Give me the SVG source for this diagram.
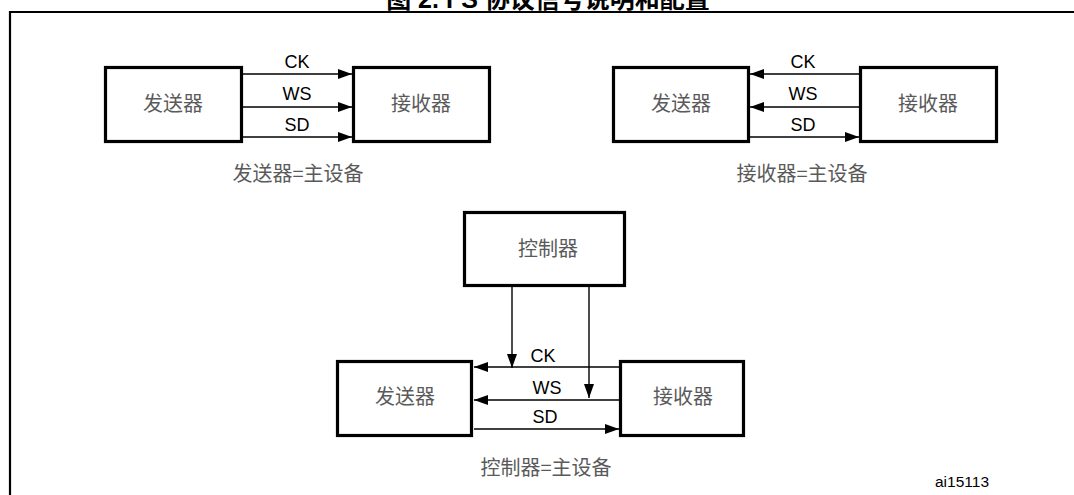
<svg xmlns="http://www.w3.org/2000/svg" width="1074" height="495" viewBox="0 0 1074 495">
<style>
.box{fill:#fff;stroke:#000;stroke-width:3.2}
.cn{font-family:"Noto Sans CJK SC","Liberation Sans",sans-serif;font-size:20px;fill:#5a5a5a;text-anchor:middle}
.lb{font-family:"Liberation Sans",Arial,sans-serif;font-size:18px;fill:#000;text-anchor:middle}
.ln{stroke:#000;stroke-width:1.4;fill:none}
.fa{marker-end:url(#ah)}
</style>
<defs>
<marker id="ah" markerUnits="userSpaceOnUse" markerWidth="16" markerHeight="12" refX="14" refY="5" orient="auto">
<path d="M0,0 L14,5 L0,10 Z" fill="#000"/>
</marker>
</defs>
<rect width="1074" height="495" fill="#fff"/>
<text x="548" y="8" font-family="'Liberation Sans','Noto Sans CJK SC',sans-serif" font-size="25" font-weight="bold" text-anchor="middle">图 2. I<tspan dy="-10" font-size="15">2</tspan><tspan dy="10">S 协议信号说明和配置</tspan></text>
<path d="M10,495 V12 H1074" fill="none" stroke="#000" stroke-width="2.2"/>

<g id="connectors">
<line class="ln fa" x1="243" y1="74" x2="352" y2="74"/>
<line class="ln fa" x1="243" y1="107" x2="352" y2="107"/>
<line class="ln fa" x1="243" y1="137" x2="352" y2="137"/>
<line class="ln fa" x1="859" y1="74" x2="750" y2="74"/>
<line class="ln fa" x1="859" y1="107" x2="750" y2="107"/>
<line class="ln fa" x1="750" y1="137" x2="859" y2="137"/>
<line class="ln fa" x1="619" y1="367" x2="474" y2="367"/>
<line class="ln fa" x1="619" y1="400" x2="474" y2="400"/>
<line class="ln fa" x1="474" y1="429" x2="619" y2="429"/>
<line class="ln fa" x1="512" y1="287" x2="512" y2="368"/>
<line class="ln fa" x1="589" y1="287" x2="589" y2="398"/>
<text class="lb" x="297" y="68">CK</text>
<text class="lb" x="297" y="100">WS</text>
<text class="lb" x="297" y="131">SD</text>
<text class="lb" x="803" y="68">CK</text>
<text class="lb" x="803" y="100">WS</text>
<text class="lb" x="803" y="131">SD</text>
<text class="lb" x="543" y="362">CK</text>
<text class="lb" x="547" y="394">WS</text>
<text class="lb" x="545" y="423">SD</text>
</g>

<g id="tl-sender"><rect class="box" x="105.5" y="67.5" width="136" height="74"/><text class="cn" x="173" y="111">发送器</text></g>
<g id="tl-receiver"><rect class="box" x="353.5" y="67.5" width="136" height="74"/><text class="cn" x="421" y="111">接收器</text></g>
<text id="tl-caption" class="cn" x="298" y="181">发送器=主设备</text>

<g id="tr-sender"><rect class="box" x="613.5" y="67.5" width="135" height="74"/><text class="cn" x="681" y="111">发送器</text></g>
<g id="tr-receiver"><rect class="box" x="860.5" y="67.5" width="136" height="74"/><text class="cn" x="928" y="111">接收器</text></g>
<text id="tr-caption" class="cn" x="802" y="181">接收器=主设备</text>

<g id="controller"><rect class="box" x="464.5" y="212.5" width="160" height="73"/><text class="cn" x="548" y="256">控制器</text></g>
<g id="b-sender"><rect class="box" x="337.5" y="361.5" width="134" height="74"/><text class="cn" x="405" y="404">发送器</text></g>
<g id="b-receiver"><rect class="box" x="620.5" y="361.5" width="123" height="74"/><text class="cn" x="683" y="404">接收器</text></g>
<text id="b-caption" class="cn" x="546" y="475">控制器=主设备</text>

<text x="962" y="487" font-family="'Liberation Sans',Arial,sans-serif" font-size="15.5" text-anchor="middle">ai15113</text>
</svg>
